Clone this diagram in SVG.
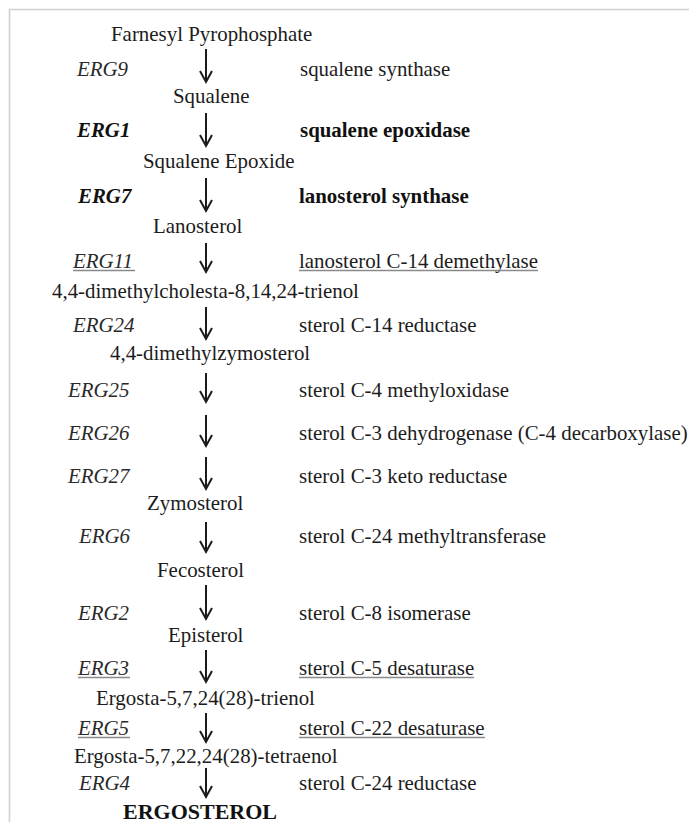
<svg xmlns="http://www.w3.org/2000/svg" width="689" height="822" viewBox="0 0 689 822">
  <style>
    text { font-family: "Liberation Serif", "Times New Roman", serif; font-size: 20.9px; fill: #1c1c1c; }
    .gene { font-style: italic; fill: #2a2a2a; }
    .bold { font-weight: bold; fill: #111; }
    .product { font-size: 22px; }
    .ul { stroke: #8a8a8a; stroke-width: 1.4; }
    .arrow { stroke: #1c1c1c; stroke-width: 2; fill: none; marker-end: url(#head); }
    .frame { stroke: #d0d0d0; stroke-width: 1.6; fill: none; }
  </style>
  <defs>
    <marker id="head" markerUnits="userSpaceOnUse" markerWidth="24" markerHeight="24" refX="0" refY="0" orient="auto" overflow="visible">
      <path d="M-11,-6 L0,0 L-11,6" fill="none" stroke="#1c1c1c" stroke-width="2" stroke-linejoin="miter"/>
    </marker>
  </defs>

  <rect width="689" height="822" fill="#ffffff"/>
  <!-- page frame -->
  <path class="frame" d="M9.5,822 V9.5 H689"/>

  <!-- metabolites -->
  <g id="farnesyl-pp"><text x="111" y="41">Farnesyl Pyrophosphate</text></g>
  <g id="squalene"><text x="173" y="103">Squalene</text></g>
  <g id="squalene-epoxide"><text x="143" y="168">Squalene Epoxide</text></g>
  <g id="lanosterol"><text x="153" y="233">Lanosterol</text></g>
  <g id="dimethylcholesta-trienol"><text x="52" y="298">4,4-dimethylcholesta-8,14,24-trienol</text></g>
  <g id="dimethylzymosterol"><text x="110" y="360">4,4-dimethylzymosterol</text></g>
  <g id="zymosterol"><text x="147" y="510">Zymosterol</text></g>
  <g id="fecosterol"><text x="157" y="577">Fecosterol</text></g>
  <g id="episterol"><text x="168" y="642">Episterol</text></g>
  <g id="ergosta-trienol"><text x="96" y="705">Ergosta-5,7,24(28)-trienol</text></g>
  <g id="ergosta-tetraenol"><text x="74" y="763">Ergosta-5,7,22,24(28)-tetraenol</text></g>
  <g id="ergosterol"><text class="bold product" x="123" y="818.5">ERGOSTEROL</text></g>

  <!-- enzyme steps: gene name and enzyme -->
  <g id="erg9"><text class="gene" x="77" y="76">ERG9</text><text x="300" y="76">squalene synthase</text></g>
  <g id="erg1"><text class="gene bold" x="77" y="137">ERG1</text><text class="bold" x="300" y="137">squalene epoxidase</text></g>
  <g id="erg7"><text class="gene bold" x="78" y="203">ERG7</text><text class="bold" x="299" y="203">lanosterol synthase</text></g>
  <g id="erg11">
    <text class="gene" x="73" y="268">ERG11</text><text x="299" y="268">lanosterol C-14 demethylase</text>
    <line class="ul" x1="73" y1="270.5" x2="135" y2="270.5"/><line class="ul" x1="299" y1="270.5" x2="538" y2="270.5"/>
  </g>
  <g id="erg24"><text class="gene" x="73" y="332">ERG24</text><text x="299" y="332">sterol C-14 reductase</text></g>
  <g id="erg25"><text class="gene" x="68" y="397">ERG25</text><text x="299" y="397">sterol C-4 methyloxidase</text></g>
  <g id="erg26"><text class="gene" x="68" y="440">ERG26</text><text x="299" y="440">sterol C-3 dehydrogenase (C-4 decarboxylase)</text></g>
  <g id="erg27"><text class="gene" x="68" y="483">ERG27</text><text x="299" y="483">sterol C-3 keto reductase</text></g>
  <g id="erg6"><text class="gene" x="79" y="543">ERG6</text><text x="299" y="543">sterol C-24 methyltransferase</text></g>
  <g id="erg2"><text class="gene" x="78" y="620">ERG2</text><text x="299" y="620">sterol C-8 isomerase</text></g>
  <g id="erg3">
    <text class="gene" x="78" y="675">ERG3</text><text x="299" y="675">sterol C-5 desaturase</text>
    <line class="ul" x1="78" y1="677.5" x2="130" y2="677.5"/><line class="ul" x1="299" y1="677.5" x2="474" y2="677.5"/>
  </g>
  <g id="erg5">
    <text class="gene" x="78" y="735">ERG5</text><text x="299" y="735">sterol C-22 desaturase</text>
    <line class="ul" x1="78" y1="737.5" x2="130" y2="737.5"/><line class="ul" x1="299" y1="737.5" x2="485" y2="737.5"/>
  </g>
  <g id="erg4"><text class="gene" x="79" y="790">ERG4</text><text x="299" y="790">sterol C-24 reductase</text></g>

  <!-- reaction arrows -->
  <g id="connectors">
    <line class="arrow" x1="206" y1="49" x2="206" y2="82"/>
    <line class="arrow" x1="206" y1="113" x2="206" y2="146"/>
    <line class="arrow" x1="206" y1="178" x2="206" y2="211"/>
    <line class="arrow" x1="206" y1="243" x2="206" y2="272"/>
    <line class="arrow" x1="206" y1="307" x2="206" y2="339"/>
    <line class="arrow" x1="206" y1="373" x2="206" y2="402"/>
    <line class="arrow" x1="206" y1="415" x2="206" y2="446"/>
    <line class="arrow" x1="206" y1="457" x2="206" y2="489"/>
    <line class="arrow" x1="206" y1="522" x2="206" y2="552"/>
    <line class="arrow" x1="206" y1="585" x2="206" y2="619"/>
    <line class="arrow" x1="206" y1="650" x2="206" y2="682"/>
    <line class="arrow" x1="206" y1="713" x2="206" y2="742"/>
    <line class="arrow" x1="206" y1="768" x2="206" y2="797"/>
  </g>
</svg>
